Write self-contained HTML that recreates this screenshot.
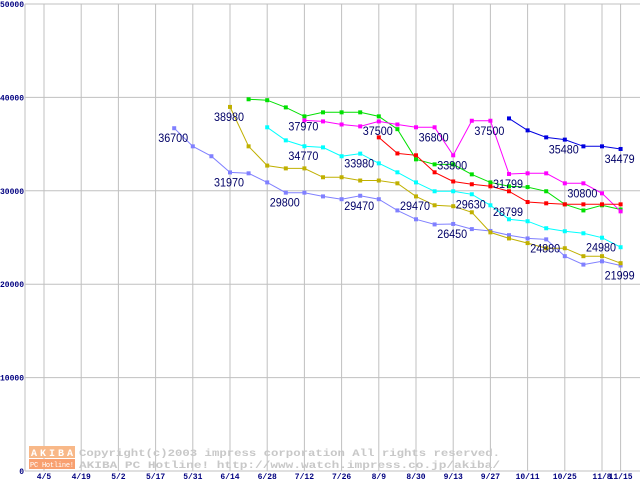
<!DOCTYPE html>
<html><head><meta charset="utf-8"><style>
html,body{margin:0;padding:0;background:#fff;}
svg{display:block;font-family:"Liberation Mono",monospace;}
</style></head><body>
<svg id="chart" width="640" height="480" viewBox="0 0 640 480" xmlns="http://www.w3.org/2000/svg">
<rect x="0" y="0" width="640" height="480" fill="#fff"/>
<g id="grid"></g>
<g id="wm">
<rect x="29" y="446" width="46" height="12" fill="#f8b888"/>
<rect x="29" y="459" width="46" height="10" fill="#f8a070"/>
<text x="31" y="456" font-size="10" fill="#fff" font-weight="bold" textLength="42">AKIBA</text>
<text x="30" y="467" font-size="7" fill="#fff" textLength="44">PC Hotline!</text>
<text x="79" y="456" font-size="10" fill="#c8c8c8" font-weight="bold" textLength="421" lengthAdjust="spacingAndGlyphs">Copyright(c)2003 impress corporation All rights reserved.</text>
<text x="79" y="468" font-size="10" fill="#c8c8c8" font-weight="bold" textLength="421" lengthAdjust="spacingAndGlyphs">AKIBA PC Hotline!  http://www.watch.impress.co.jp/akiba/</text>
</g>
<g id="axes"></g>
<g id="series"></g>
<g id="labels"></g>
</svg>
<script>
const xLabels = ["4/5","4/19","5/2","5/17","5/31","6/14","6/28","7/12","7/26","8/9","8/30","9/13","9/27","10/11","10/25","11/8","11/15"];
const xLabelSlots = [0,2,4,6,8,10,12,14,16,18,20,22,24,26,28,30,31];
const yTicks = [0,10000,20000,30000,40000,50000];
const lavenderStart = 7;
const lavenderValues = [36700,34760,33700,31970,31870,30900,29800,29800,29400,29100,29470,29100,27900,26950,26400,26450,25900,25700,25250,24900,24800,23000,22100,22450,21999];
const oliveStart = 10;
const oliveValues = [38980,34760,32700,32400,32400,31450,31450,31100,31100,30800,29400,28450,28350,27700,25550,24900,24400,23850,23850,23000,23000,22250];
const greenStart = 11;
const greenValues = [39800,39700,38930,37970,38400,38400,38400,37970,36600,33370,32830,32830,31760,30900,30480,30400,29950,28550,27900,28450,28000];
const magentaStart = 14;
const magentaValues = [37540,37430,37100,36900,37430,37100,36800,36800,33800,37500,37500,31799,31870,31870,30800,30800,29730,27800];
const cyanStart = 12;
const cyanValues = [36800,35400,34770,34650,33700,33980,32940,31980,30900,29950,29950,29630,28450,26950,26740,25990,25670,25450,24980,23960];
const redStart = 18;
const redValues = [35720,34000,33800,31980,31000,30700,30480,29950,28799,28660,28550,28550,28550,28550];
const blueStart = 25;
const blueValues = [37750,36470,35720,35480,34760,34760,34479];
const labelTexts = ["36700","38980","31970","29800","37970","34770","33980","29470","37500","36800","37500","33800","29470","29630","26450","31799","28799","24880","35480","34479","30800","24980","21999"];
const labelSlots = [7,10,10,13,14,14,17,17,18,21,24,22,20,23,22,25,25,27,28,31,29,30,31];
const labelValues = [36700,38980,31970,29800,37970,34770,33980,29470,37500,36800,37500,33800,29470,29630,26450,31799,28799,24880,35480,34479,30800,24980,21999];

const NS="http://www.w3.org/2000/svg";
const X0=25, XR=640, Y0=471, YT=4;
function xs(w){return 44 + w*18.6;}
function ys(v){return Y0 - (v/50000)*(Y0-YT);}
function mk(tag,attrs,parent){const e=document.createElementNS(NS,tag);for(const k in attrs)e.setAttribute(k,attrs[k]);parent.appendChild(e);return e;}
const grid=document.getElementById('grid'), axes=document.getElementById('axes'), ser=document.getElementById('series'), lab=document.getElementById('labels');

yTicks.forEach(v=>{
  const l=mk('line',{x1:X0,x2:XR,y1:ys(v),y2:ys(v),stroke:'#c0c0c0','stroke-width':1},grid);
  
  
  const s=String(v);
  const w=s.length*4.8;
  const t=mk('text',{x:24-w,y:ys(v)+3,'font-size':8,'font-weight':'bold',fill:'#000080',textLength:w,lengthAdjust:'spacingAndGlyphs'},axes);
  t.textContent=s;
  
  
});
xLabelSlots.forEach((s,i)=>{
  const l=mk('line',{x1:xs(s),x2:xs(s),y1:YT,y2:Y0,stroke:'#c0c0c0','stroke-width':1},grid);
  
  
  const t=mk('text',{x:xs(s),y:479,'text-anchor':'middle','font-size':8,'font-weight':'bold',fill:'#000080'},axes);
  t.textContent=xLabels[i];
  
  
});
const ax=mk('line',{x1:X0,x2:X0,y1:YT,y2:Y0,stroke:'#c0c0c0','stroke-width':1},axes);



function drawSeries(name,start,vals,color){
  const g=mk('g',{},ser);
  
  
  const pts=vals.map((v,i)=>xs(start+i).toFixed(1)+','+ys(v).toFixed(1)).join(' ');
  const pl=mk('polyline',{points:pts,fill:'none',stroke:color,'stroke-width':1},g);
  
  
  vals.forEach((v,i)=>{
    const r=mk('rect',{x:xs(start+i)-2,y:ys(v)-2,width:4,height:4,fill:color},g);
    
    
  });
}
drawSeries('lavender',lavenderStart,lavenderValues,'#8080ff');
drawSeries('olive',oliveStart,oliveValues,'#c0b000');
drawSeries('green',greenStart,greenValues,'#00e000');
drawSeries('cyan',cyanStart,cyanValues,'#00ffff');
drawSeries('magenta',magentaStart,magentaValues,'#ff00ff');
drawSeries('red',redStart,redValues,'#ff0000');
drawSeries('blue',blueStart,blueValues,'#0000e0');

labelTexts.forEach((s,i)=>{
  const t=mk('text',{x:xs(labelSlots[i])-16,y:ys(labelValues[i])+14,'font-family':'"Liberation Sans",sans-serif','font-size':12,fill:'#000066',textLength:30,lengthAdjust:'spacingAndGlyphs'},lab);
  t.textContent=s;
  
  
});
</script>
</body></html>
